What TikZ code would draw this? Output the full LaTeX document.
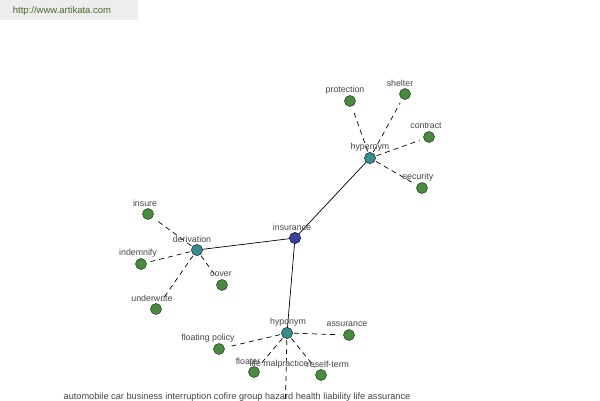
\documentclass[tikz,border=0pt]{standalone}
\usepackage{fontspec}
\setmainfont{Liberation Sans}
\definecolor{leafc}{HTML}{4A8A40}
\definecolor{leafd}{HTML}{2A4F25}
\definecolor{hubc}{HTML}{3D8C8C}
\definecolor{hubd}{HTML}{25504F}
\definecolor{rootc}{HTML}{3C3F9A}
\definecolor{rootd}{HTML}{22245A}
\definecolor{txt}{HTML}{444444}
\definecolor{urlc}{HTML}{4A6A2A}
\begin{document}
\begin{tikzpicture}[x=1pt,y=-1pt,
  leaf/.style={circle,draw=leafd,line width=0.6pt,fill=leafc,inner sep=0pt,minimum size=11pt},
  hub/.style={circle,draw=hubd,line width=0.6pt,fill=hubc,inner sep=0pt,minimum size=11pt},
  root/.style={circle,draw=rootd,line width=0.6pt,fill=rootc,inner sep=0pt,minimum size=11pt},
  lbl/.style={font=\fontsize{8.8}{10}\selectfont,text=txt,inner sep=0pt},
  rel/.style={dash pattern=on 5pt off 4pt,line width=0.7pt,shorten >=10pt,shorten <=7pt},
  main/.style={line width=0.7pt}]
\useasboundingbox (0,0) rectangle (600,400);
\fill[black!7] (0,0) rectangle (138,20);
\node[lbl,text=urlc,font=\fontsize{9.5}{11}\selectfont] (url) at (62,11) {http://www.artikata.com};
% nodes
\node[root] (ins) at (295,238) {};
\node[hub] (hyper) at (370,158) {};
\node[hub] (deriv) at (197,250) {};
\node[hub] (hypo) at (287,333) {};
\node[leaf] (prot) at (350,101) {};
\node[leaf] (shel) at (405,94) {};
\node[leaf] (cont) at (429,137) {};
\node[leaf] (secu) at (422,188) {};
\node[leaf] (insu) at (148,214) {};
\node[leaf] (inde) at (141,264) {};
\node[leaf] (cove) at (222,285) {};
\node[leaf] (unde) at (156,309) {};
\node[leaf] (assu) at (349,335) {};
\node[leaf] (flpo) at (219,349) {};
\node[leaf] (flo) at (254,372) {};
\node[leaf] (rese) at (321,375) {};
\coordinate (bot) at (285,420);
% edges
\draw[main] (ins.center) -- (hyper.center);
\draw[main] (ins.center) -- (deriv.center);
\draw[main] (ins.center) -- (hypo.center);
\foreach \t in {prot,shel,cont,secu} \draw[rel] (hyper.center) -- (\t.center);
\foreach \t in {insu,inde,cove,unde} \draw[rel] (deriv.center) -- (\t.center);
\foreach \t in {assu,flpo,flo,rese} \draw[rel] (hypo.center) -- (\t.center);
\draw[rel,shorten >=0pt] (hypo.center) -- (bot);
% redraw nodes on top
\node[root] at (ins) {};
\node[hub] at (hyper) {};
\node[hub] at (deriv) {};
\node[hub] at (hypo) {};
% labels
\node[lbl] (l1) at (292,227) {insurance};
\node[lbl] (l2) at (370,147) {hypernym};
\node[lbl] (l3) at (345,90) {protection};
\node[lbl] (l4) at (400,83) {shelter};
\node[lbl] (l5) at (426,126) {contract};
\node[lbl] (l6) at (418,177) {security};
\node[lbl] (l7) at (192,239) {derivation};
\node[lbl] (l8) at (145,203) {insure};
\node[lbl] (l9) at (138,253) {indemnify};
\node[lbl] (l10) at (221,274) {cover};
\node[lbl] (l11) at (152,298) {underwrite};
\node[lbl] (l12) at (288,322) {hyponym};
\node[lbl] (l13) at (347,324) {assurance};
\node[lbl] (l14) at (208,338) {floating policy};
\node[lbl] (l16) at (279,364) {life malpractice};
\node[lbl] (l15) at (248,361) {floater};
\node[lbl] (l17) at (328,364) {reself-term};
\node[lbl,font=\fontsize{9.2}{11}\selectfont] (l18) at (237,397) {automobile car business interruption cofire group hazard health liability life assurance};
\end{tikzpicture}
\end{document}
